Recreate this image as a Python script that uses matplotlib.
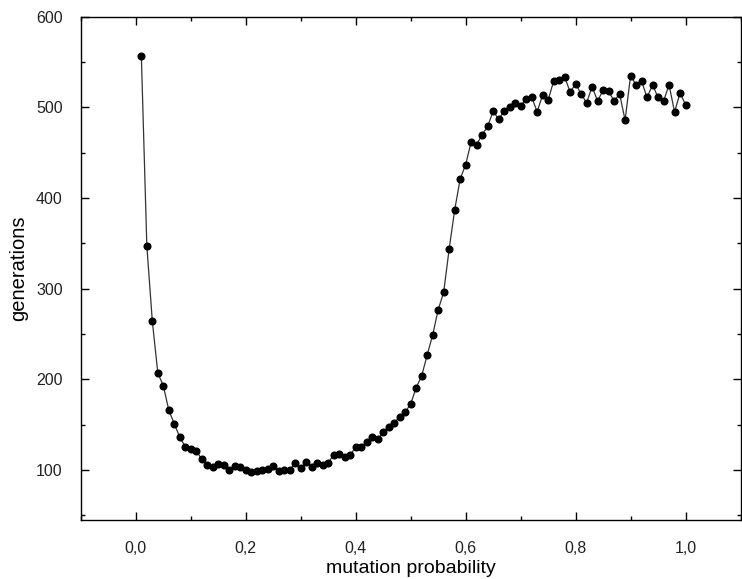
import matplotlib
matplotlib.use("Agg")
import matplotlib.pyplot as plt
from matplotlib.ticker import MultipleLocator, FuncFormatter

plt.rcParams['font.family'] = ['Liberation Sans', 'DejaVu Sans']

mutation_probability = [round(0.01 * i, 2) for i in range(1, 101)]
generations = [
    557, 347, 264, 207, 193, 166, 151, 136, 126, 123,
    121, 112, 106, 103, 107, 106, 100, 105, 103, 100,
    98, 99, 100, 101, 105, 99, 100, 100, 108, 102,
    109, 103, 108, 106, 108, 117, 118, 114, 117, 125,
    126, 131, 137, 134, 142, 148, 152, 159, 164, 173,
    191, 204, 227, 249, 277, 296, 344, 387, 421, 437,
    462, 459, 470, 479, 496, 487, 496, 501, 505, 502,
    509, 512, 495, 514, 508, 529, 530, 534, 517, 526,
    515, 505, 523, 507, 519, 518, 507, 515, 486, 535,
    525, 529, 511, 525, 511, 507, 525, 495, 516, 503,
]
x_ticks = [0.0, 0.2, 0.4, 0.6, 0.8, 1.0]
y_ticks = [100, 200, 300, 400, 500, 600]

fig = plt.figure(figsize=(7.42, 5.79), dpi=100)
ax = fig.add_axes([0.109, 0.102, 0.889, 0.869])

ax.plot(mutation_probability, generations, color='#333333', linewidth=0.9,
        marker='o', markersize=4.8, markerfacecolor='black',
        markeredgecolor='black', zorder=3)

ax.set_xlim(-0.1, 1.1)
ax.set_ylim(45, 600)
ax.set_xticks(x_ticks)
ax.set_yticks(y_ticks)
ax.xaxis.set_minor_locator(MultipleLocator(0.1))
ax.yaxis.set_minor_locator(MultipleLocator(50))
ax.xaxis.set_major_formatter(FuncFormatter(lambda v, p: f"{v:.1f}".replace('.', ',')))

ax.tick_params(which='both', direction='in', top=True, right=True,
               labelsize=11.5, colors='black', width=1.0)
ax.tick_params(which='major', length=6)
ax.tick_params(which='minor', length=3)
ax.tick_params(axis='x', which='major', pad=15)
ax.tick_params(axis='y', which='major', pad=13)
for tl in ax.get_xticklabels() + ax.get_yticklabels():
    tl.set_color('#222222')

for s in ax.spines.values():
    s.set_linewidth(1.0)
    s.set_color('black')

ax.set_xlabel('mutation probability', fontsize=14)
ax.xaxis.set_label_coords(0.5, -0.080)
ax.set_ylabel('generations', fontsize=14.5, labelpad=6)

fig.savefig('out.png', dpi=100)
